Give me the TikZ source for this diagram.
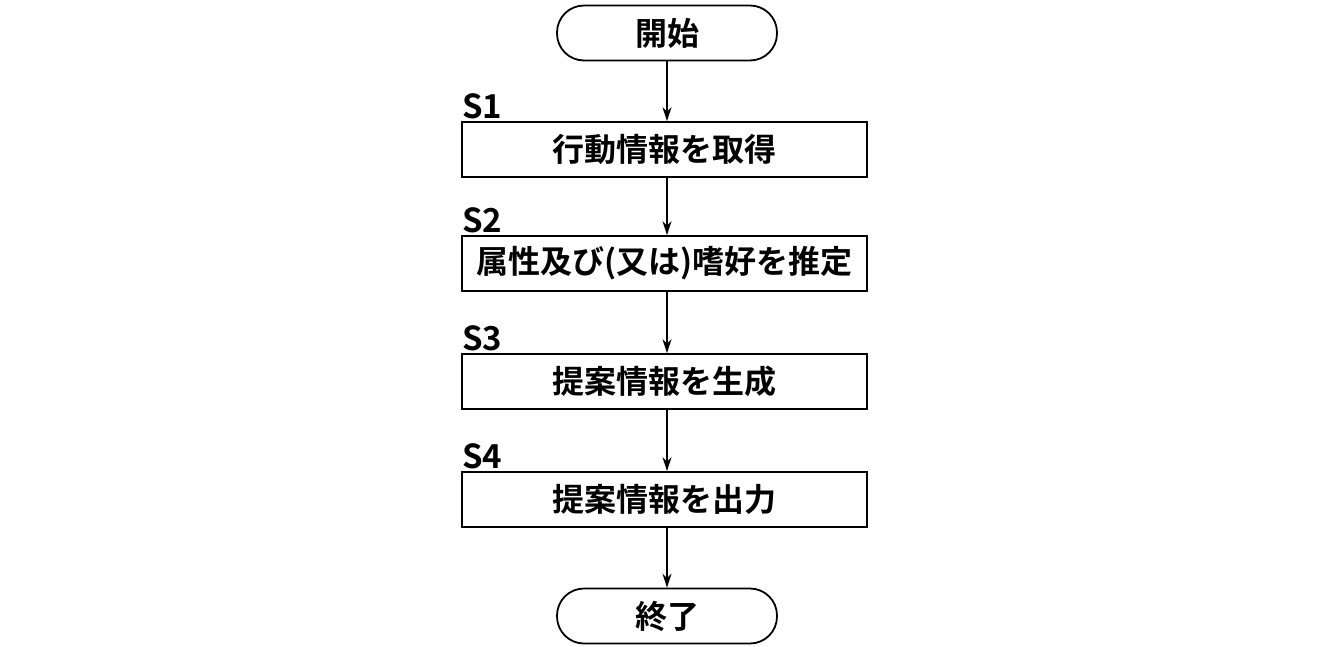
\documentclass[tikz,border=0pt]{standalone}
\usepackage{fontspec}
\setmainfont{Noto Sans CJK JP}[BoldFont={Noto Sans CJK JP Bold}]
\usetikzlibrary{arrows.meta}
\begin{document}
\begin{tikzpicture}[x=1pt,y=-1pt,
 box/.style={draw,line width=1.8pt,minimum width=405pt,minimum height=55pt,font=\fontsize{32}{32}\selectfont\bfseries,inner sep=0pt},
 term/.style={draw,line width=1.8pt,rounded corners=27pt,minimum width=220pt,minimum height=55pt,font=\fontsize{32}{32}\selectfont\bfseries},
 lab/.style={font=\fontsize{33}{33}\selectfont\bfseries,anchor=south west,inner sep=0pt},
 arr/.style={line width=1.8pt,-{Stealth[length=14pt,width=9pt]}}]
\useasboundingbox (0,0) rectangle (1339,646);
\node[term] (st) at (667,33) {開始};
\node[box] (s1) at (664.5,149.5) {行動情報を取得};
\node[box] (s2) at (664.5,263.5) {属性及び(又は)嗜好を推定};
\node[box] (s3) at (664.5,381.5) {提案情報を生成};
\node[box] (s4) at (664.5,499.5) {提案情報を出力};
\node[term] (en) at (667,616) {終了};
\node[lab] (l1) at (462,119) {S1};
\node[lab] (l2) at (462,233) {S2};
\node[lab] (l3) at (462,351) {S3};
\node[lab] (l4) at (462,469) {S4};
\draw[arr] (st.south) -- (st.south|-s1.north);
\draw[arr] (s1.south-|st.south) -- (st.south|-s2.north);
\draw[arr] (s2.south-|st.south) -- (st.south|-s3.north);
\draw[arr] (s3.south-|st.south) -- (st.south|-s4.north);
\draw[arr] (s4.south-|st.south) -- (en.north);
\end{tikzpicture}
\end{document}
